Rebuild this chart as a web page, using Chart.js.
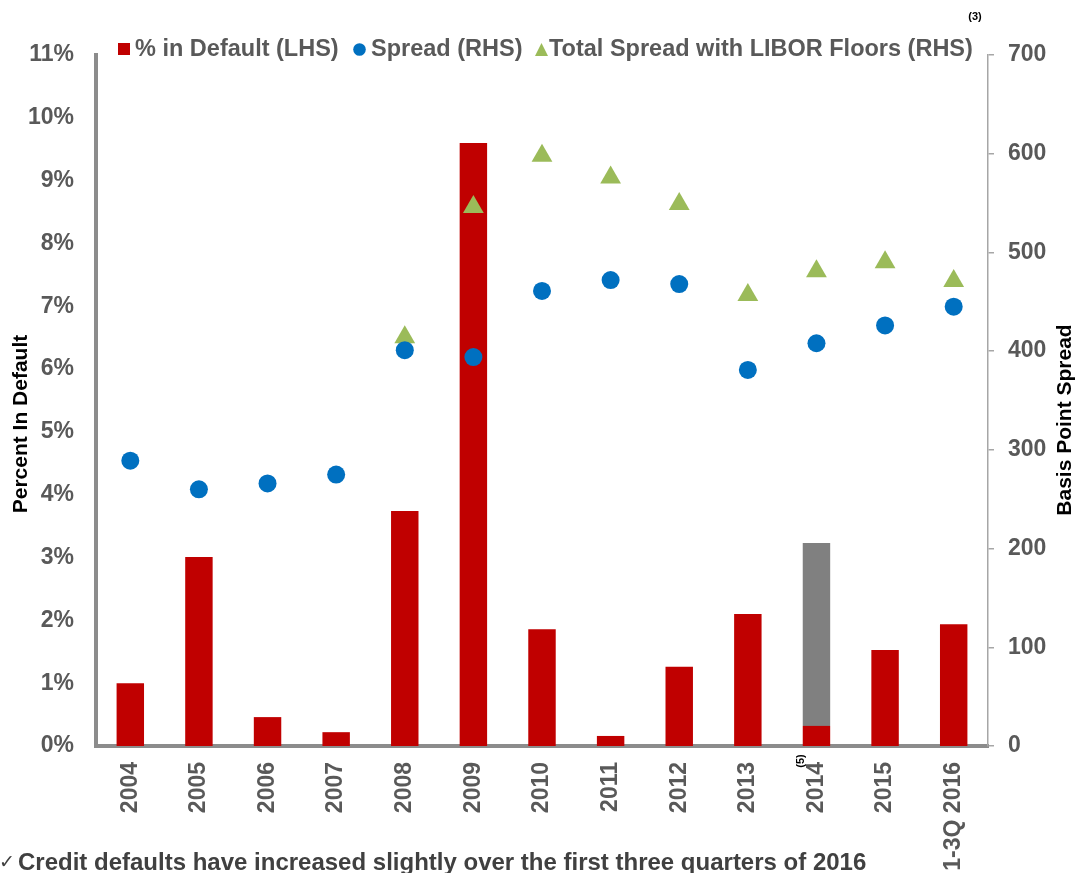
<!DOCTYPE html>
<html>
<head>
<meta charset="utf-8">
<script src="https://cdn.jsdelivr.net/npm/chart.js@4.4.1/dist/chart.umd.min.js"></script>
<style>
  html, body { margin: 0; padding: 0; background: #ffffff; }
  #wrap { width: 1076px; height: 873px; position: relative; }
</style>
</head>
<body>
<div id="wrap"><canvas id="c" width="1076" height="873"></canvas></div>
<script>
const categories = ['2004', '2005', '2006', '2007', '2008', '2009', '2010', '2011', '2012', '2013', '2014', '2015', '1-3Q 2016'];
const pctInDefault = [1.0, 3.01, 0.46, 0.22, 3.74, 9.6, 1.86, 0.16, 1.26, 2.1, 0.32, 1.53, 1.94];
const pctInDefault2014Extra = [null, null, null, null, null, null, null, null, null, null, 2.91, null, null];
const spreadRHS = [289, 260, 266, 275, 401, 394, 461, 472, 468, 381, 408, 426, 445];
const totalSpreadLiborFloors = [null, null, null, null, 414, 546, 598, 576, 549, 457, 481, 490, 471];
const leftTicks = [0, 1, 2, 3, 4, 5, 6, 7, 8, 9, 10, 11];
const rightTicks = [0, 100, 200, 300, 400, 500, 600, 700];

const FONT = "'Liberation Sans', Arial, Helvetica, sans-serif";
const TICK_COLOR = '#595959';

const annotations = {
  id: 'annotations',
  afterDraw(chart) {
    const ctx = chart.ctx;
    ctx.save();
    // Legend
    ctx.textBaseline = 'middle';
    ctx.textAlign = 'left';
    ctx.font = 'bold 23.5px ' + FONT;
    ctx.fillStyle = '#C00000';
    ctx.fillRect(118, 43, 12, 12);
    ctx.fillStyle = TICK_COLOR;
    ctx.fillText('% in Default (LHS)', 135, 50);
    ctx.fillStyle = '#0070C0';
    ctx.beginPath();
    ctx.arc(359.5, 49.5, 6.3, 0, Math.PI * 2);
    ctx.fill();
    ctx.fillStyle = TICK_COLOR;
    ctx.fillText('Spread (RHS)', 371, 50);
    ctx.fillStyle = '#9BBB59';
    ctx.beginPath();
    ctx.moveTo(535, 56);
    ctx.lineTo(548, 56);
    ctx.lineTo(541.5, 43);
    ctx.closePath();
    ctx.fill();
    ctx.fillStyle = TICK_COLOR;
    ctx.fillText('Total Spread with LIBOR Floors (RHS)', 549, 50);

    // (3)
    ctx.fillStyle = '#000000';
    ctx.font = 'bold 11px ' + FONT;
    ctx.textAlign = 'center';
    ctx.fillText('(3)', 975, 17);

    // Axis titles
    ctx.font = 'bold 21px ' + FONT;
    ctx.fillStyle = '#000000';
    ctx.textAlign = 'center';
    ctx.textBaseline = 'middle';
    ctx.save();
    ctx.translate(21, 424);
    ctx.rotate(-Math.PI / 2);
    ctx.fillText('Percent In Default', 0, 0);
    ctx.restore();
    ctx.save();
    ctx.translate(1065, 420);
    ctx.rotate(-Math.PI / 2);
    ctx.fillText('Basis Point Spread', 0, 0);
    ctx.restore();

    // (5) note next to 2014 label
    ctx.save();
    ctx.font = 'bold 11px ' + FONT;
    ctx.translate(801, 761);
    ctx.rotate(-Math.PI / 2);
    ctx.fillText('(5)', 0, 0);
    ctx.restore();

    // Bottom comment
    ctx.textAlign = 'left';
    ctx.textBaseline = 'alphabetic';
    ctx.fillStyle = '#404040';
    ctx.font = "19px 'DejaVu Sans', sans-serif";
    ctx.fillText('\u2713', -1, 868);
    ctx.font = 'bold 24px ' + FONT;
    ctx.fillText('Credit defaults have increased slightly over the first three quarters of 2016', 18, 870);
    ctx.restore();
  }
};

new Chart(document.getElementById('c'), {
  type: 'bar',
  data: {
    labels: categories,
    datasets: [
      {
        type: 'line',
        label: 'Spread (RHS)',
        data: spreadRHS,
        yAxisID: 'y2',
        showLine: false,
        pointStyle: 'circle',
        pointRadius: 9,
        pointHoverRadius: 9,
        pointBackgroundColor: '#0070C0',
        pointBorderWidth: 0,
        borderColor: '#0070C0',
        order: 0
      },
      {
        type: 'line',
        label: 'Total Spread with LIBOR Floors (RHS)',
        data: totalSpreadLiborFloors,
        yAxisID: 'y2',
        showLine: false,
        pointStyle: 'triangle',
        pointRadius: 12,
        pointHoverRadius: 12,
        pointBackgroundColor: '#9BBB59',
        pointBorderWidth: 0,
        borderColor: '#9BBB59',
        order: 0
      },
      {
        label: '% in Default (LHS)',
        data: pctInDefault,
        yAxisID: 'y',
        backgroundColor: '#C00000',
        borderWidth: 0,
        barPercentage: 0.5,
        categoryPercentage: 0.8,
        stack: 's',
        order: 1
      },
      {
        label: '2014 extra',
        data: pctInDefault2014Extra,
        yAxisID: 'y',
        backgroundColor: '#808080',
        borderWidth: 0,
        barPercentage: 0.5,
        categoryPercentage: 0.8,
        stack: 's',
        order: 1
      }
    ]
  },
  options: {
    responsive: false,
    animation: false,
    devicePixelRatio: 1,
    layout: { padding: { top: 55, left: 0, right: 0, bottom: 0 } },
    plugins: {
      legend: { display: false },
      tooltip: { enabled: false },
      title: { display: false }
    },
    scales: {
      x: {
        offset: true,
        stacked: true,
        grid: { display: false, drawTicks: false },
        border: { display: true, color: '#8c8c8c', width: 4 },
        ticks: {
          minRotation: 90,
          maxRotation: 90,
          autoSkip: false,
          padding: 16,
          color: TICK_COLOR,
          font: { family: FONT, size: 23, weight: 'bold' }
        },
        afterFit(scale) { scale.height = 127; }
      },
      y: {
        position: 'left',
        stacked: true,
        min: 0,
        max: 11,
        afterBuildTicks(scale) { scale.ticks = leftTicks.map(v => ({ value: v })); },
        grid: { display: false, drawTicks: false },
        border: { display: true, color: '#8c8c8c', width: 4 },
        ticks: {
          padding: 22,
          color: TICK_COLOR,
          font: { family: FONT, size: 23, weight: 'bold' },
          callback: v => v + '%'
        },
        afterFit(scale) { scale.width = 96; }
      },
      y2: {
        position: 'right',
        min: 0,
        max: 700,
        afterBuildTicks(scale) { scale.ticks = rightTicks.map(v => ({ value: v })); },
        grid: { display: true, drawOnChartArea: false, drawTicks: true, tickLength: 6, color: '#a6a6a6', lineWidth: 1.5 },
        border: { display: true, color: '#a6a6a6', width: 1.5 },
        ticks: {
          padding: 14,
          color: TICK_COLOR,
          font: { family: FONT, size: 23, weight: 'bold' }
        },
        afterFit(scale) { scale.width = 88; }
      }
    }
  },
  plugins: [annotations]
});
</script>
</body>
</html>
